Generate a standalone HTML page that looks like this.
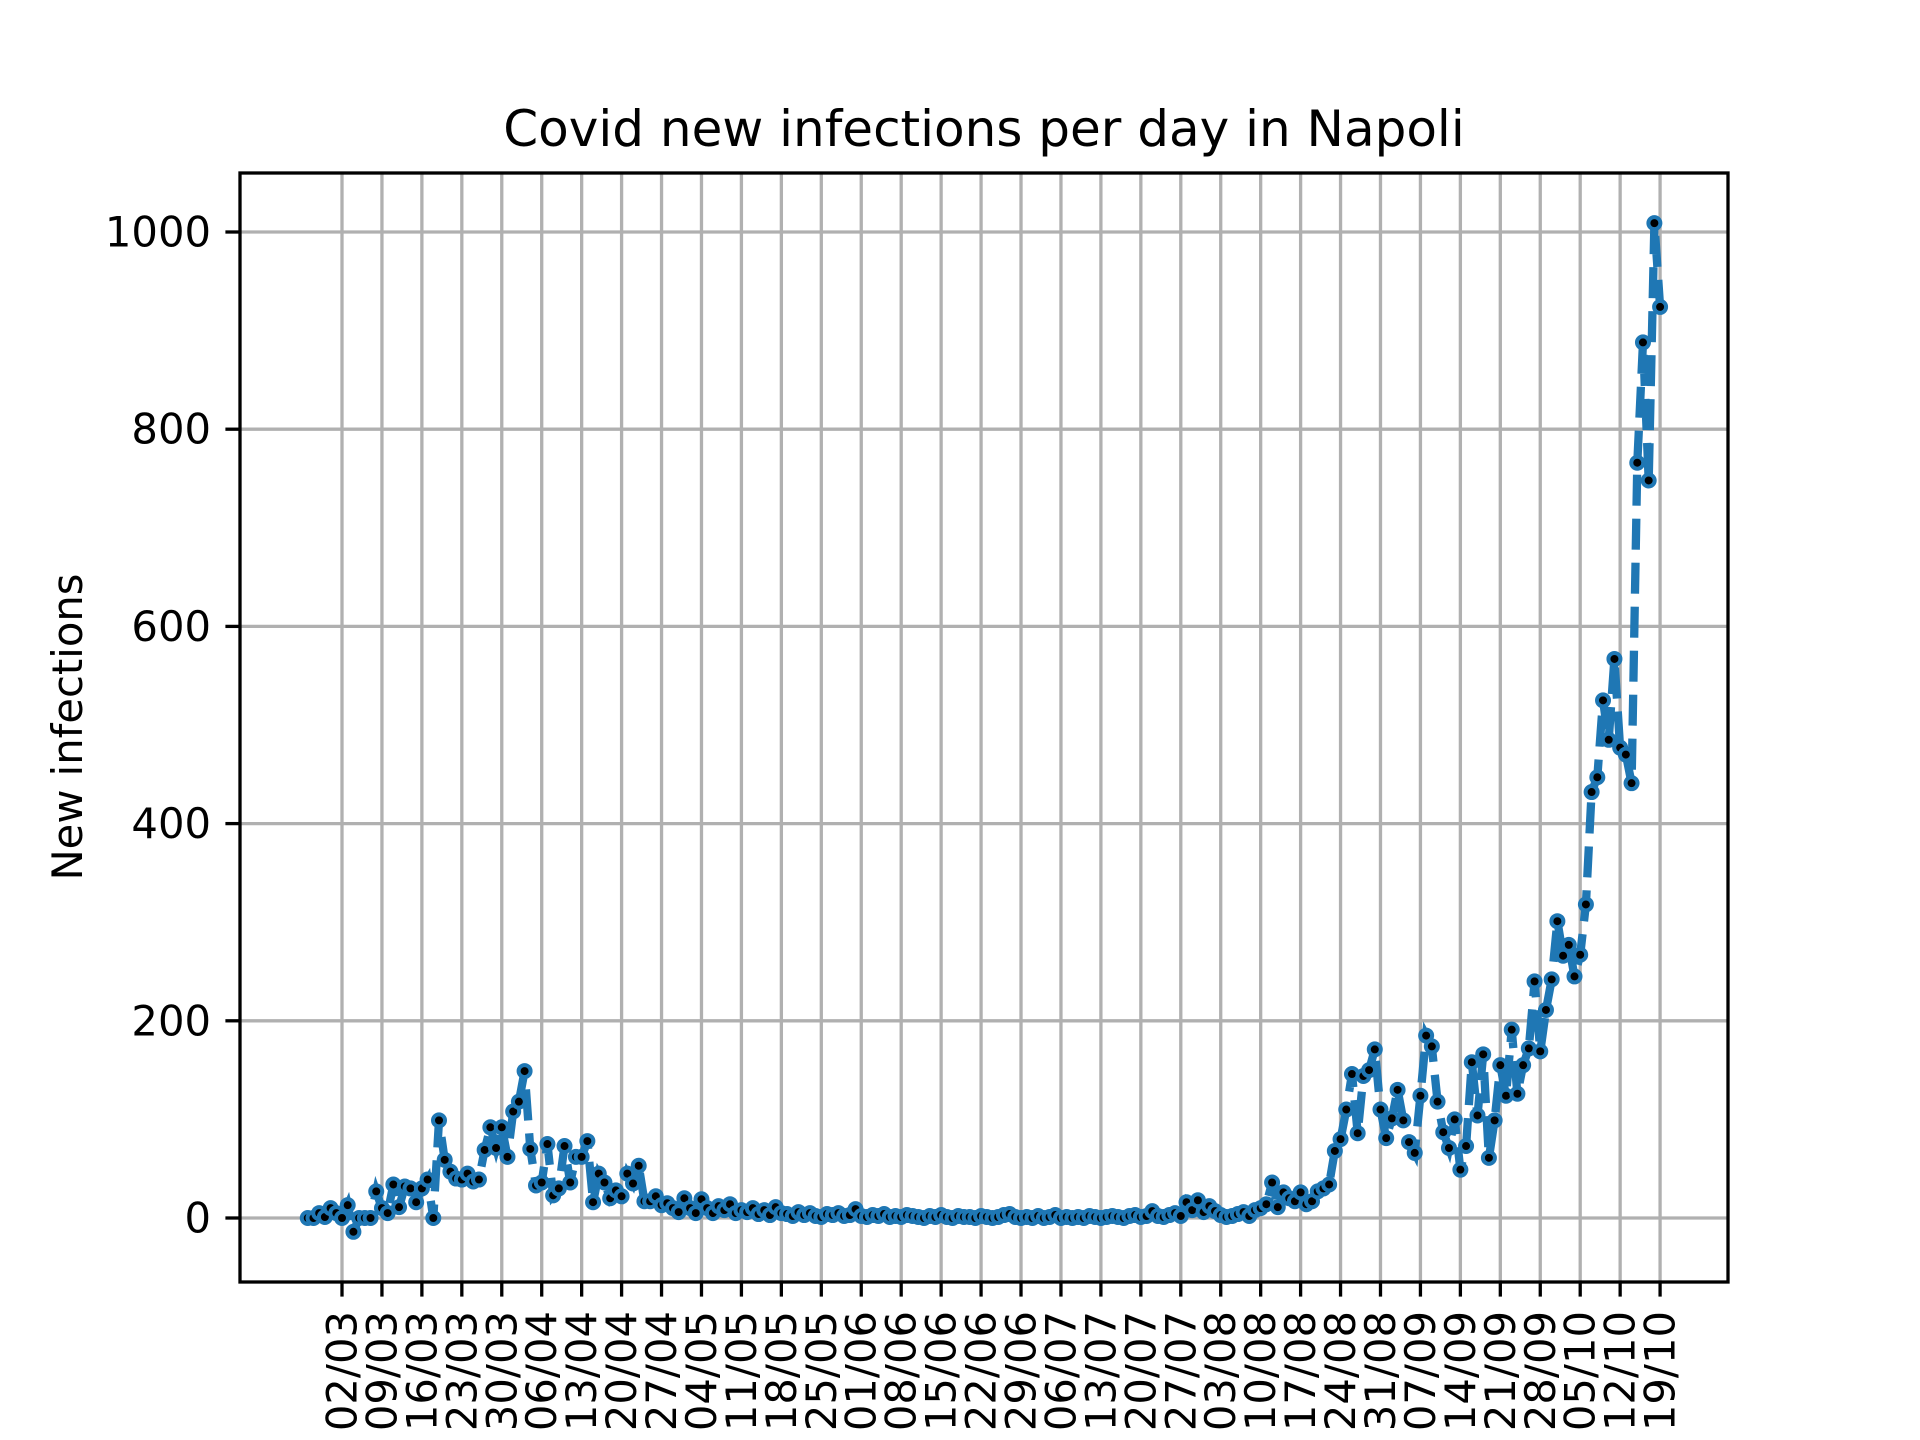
<!DOCTYPE html>
<html><head><meta charset="utf-8"><title>Covid Napoli</title>
<style>html,body{margin:0;padding:0;background:#fff}svg{display:block}text{font-family:"DejaVu Sans","Liberation Sans",sans-serif;fill:#000}</style>
</head><body>
<svg id="chart" width="1920" height="1440" viewBox="0 0 1920 1440" xmlns="http://www.w3.org/2000/svg">
<rect x="0" y="0" width="1920" height="1440" fill="#fff"/>
<g id="grid"></g>
<g id="series"></g>
<g id="axes"></g>
<text x="984" y="146" font-size="50" text-anchor="middle">Covid new infections per day in Napoli</text>
<text x="0" y="0" font-size="41.7" text-anchor="middle" transform="translate(82,727) rotate(-90)">New infections</text>
</svg>
<script>
const values = [0,0,5,1,10,5,0,13,-14,0,0,0,27,10,5,34,11,32,30,16,30,39,0,99,59,47,40,39,45,37,39,69,92,71,92,62,108,118,149,70,33,36,75,23,30,73,36,62,62,78,16,45,36,20,28,22,45,35,53,17,17,22,13,15,10,6,20,10,5,
19,10,5,12,8,14,5,8,6,10,4,8,3,11,5,4,2,6,3,5,2,1,4,3,5,2,3,9,2,1,3,2,4,1,2,1,3,2,1,0,2,1,3,1,0,2,1,1,0,2,1,0,1,3,4,1,0,1,0,2,0,1,3,0,1,0,1,0,2,1,0,1,2,1,0,2,3,1,2,7,2,1,3,5,2,16,8,18,6,12,7,3,1,2,4,6,2,8,10,14,
36,11,26,20,17,26,14,17,27,30,34,68,80,110,146,86,144,150,171,110,81,101,130,99,77,66,124,185,174,118,87,71,100,49,73,158,104,166,61,99,155,124,191,126,155,172,240,169,211,242,301,266,277,245,267,318,432,447,525,485,567,477,470,441,766,888,748,1009,924];
const tickLabels = ["02/03","09/03","16/03","23/03","30/03","06/04","13/04","20/04","27/04","04/05","11/05","18/05","25/05","01/06","08/06","15/06","22/06","29/06","06/07","13/07","20/07","27/07","03/08","10/08","17/08","24/08","31/08","07/09","14/09","21/09","28/09","05/10","12/10","19/10"];
const tickIndex = [6,13,20,27,34,41,48,55,62,69,76,83,90,97,104,111,118,125,132,139,146,153,160,167,174,181,188,195,202,209,216,223,230,237];
const yTicks = [0,200,400,600,800,1000];

const L=240,R=1728,T=173,B=1282;
const xS = i => 342 + (i-6)*5.706;
const yS = v => 1218 - v*0.986;
const NS="http://www.w3.org/2000/svg";
function mk(tag, attrs, parent){const e=document.createElementNS(NS,tag);for(const k in attrs)e.setAttribute(k,attrs[k]);parent.appendChild(e);return e;}
const grid=document.getElementById('grid'), axes=document.getElementById('axes'), series=document.getElementById('series');

tickIndex.forEach((ti,k)=>{
  const x=xS(ti);
  const g=mk('line',{x1:x,x2:x,y1:T,y2:B,stroke:'#b0b0b0','stroke-width':3.3},grid);
  
  
  const t=mk('line',{x1:x,x2:x,y1:B,y2:B+14.6,stroke:'#000','stroke-width':3.3},axes);
  
  
  const lb=mk('text',{x:0,y:0,'font-size':41.7,'text-anchor':'end','dominant-baseline':'central',transform:`translate(${x},${B+29}) rotate(-90)`},axes);
  lb.textContent=tickLabels[k];
  
  
});
yTicks.forEach(v=>{
  const y=yS(v);
  const g=mk('line',{x1:L,x2:R,y1:y,y2:y,stroke:'#b0b0b0','stroke-width':3.3},grid);
  
  
  const t=mk('line',{x1:L-14.6,x2:L,y1:y,y2:y,stroke:'#000','stroke-width':3.3},axes);
  
  
  const lb=mk('text',{x:L-29,y:y,'font-size':41.7,'text-anchor':'end','dominant-baseline':'central'},axes);
  lb.textContent=String(v);
  
  
});
const frame=mk('rect',{x:L,y:T,width:R-L,height:B-T,fill:'none',stroke:'#000','stroke-width':3.3},axes);



const pts=values.map((v,i)=>xS(i).toFixed(1)+','+yS(v).toFixed(1)).join(' ');
const line=mk('polyline',{points:pts,fill:'none',stroke:'#1f77b4','stroke-width':8.3,'stroke-dasharray':'31 13'},series);


values.forEach((v,i)=>{
  const c=mk('circle',{cx:xS(i),cy:yS(v),r:6,fill:'#000',stroke:'#1f77b4','stroke-width':4},series);
  
  
});
</script>
</body></html>
